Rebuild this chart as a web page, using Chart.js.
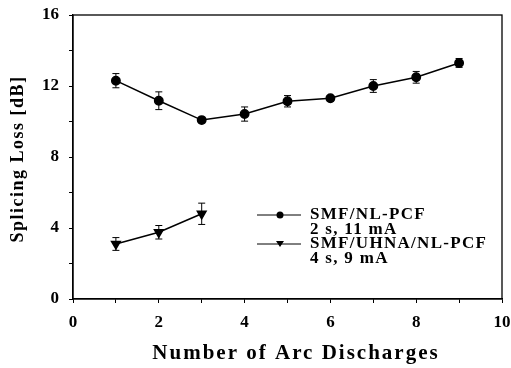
<!DOCTYPE html>
<html>
<head>
<meta charset="utf-8">
<script src="https://cdn.jsdelivr.net/npm/chart.js@4.4.0/dist/chart.umd.min.js"></script>
<style>
  html, body { margin: 0; padding: 0; background: #fff; }
  #wrap { width: 511px; height: 368px; }
</style>
</head>
<body>
<div id="wrap"><canvas id="chart" width="511" height="368"></canvas></div>
<script>
// arc discharge counts
const arcsA = [1, 2, 3, 4, 5, 6, 7, 8, 9];
const lossA = [12.3, 11.17, 10.08, 10.42, 11.14, 11.31, 12.0, 12.49, 13.3];
const errA = [0.4, 0.5, 0.15, 0.4, 0.32, 0.15, 0.36, 0.33, 0.25];

const arcsB = [1, 2, 3];
const lossB = [3.1, 3.76, 4.8];
const errB = [0.36, 0.38, 0.6];

const labelsA = ["SMF/NL-PCF", "2 s, 11 mA"];
const labelsB = ["SMF/UHNA/NL-PCF", "4 s, 9 mA"];
const xTitle = "Number of Arc Discharges";
const yTitle = "Splicing Loss [dB]";

const serif = "'Liberation Serif', 'Times New Roman', serif";

// error bars, frame, legend, axis titles (spaced letters)
const extras = {
    id: "extras",
    afterDatasetsDraw(chart) {
        const ctx = chart.ctx;
        const x = chart.scales.x, y = chart.scales.y;
        ctx.save();
        ctx.strokeStyle = "#000";
        ctx.fillStyle = "#000";
        ctx.lineWidth = 1;
        chart.data.datasets.forEach((ds) => {
            ds.data.forEach((p) => {
                const px = x.getPixelForValue(p.x);
                const top = y.getPixelForValue(p.y + p.e);
                const bot = y.getPixelForValue(p.y - p.e);
                ctx.beginPath();
                ctx.moveTo(px, top); ctx.lineTo(px, bot);
                ctx.moveTo(px - 3.5, top); ctx.lineTo(px + 3.5, top);
                ctx.moveTo(px - 3.5, bot); ctx.lineTo(px + 3.5, bot);
                ctx.stroke();
            });
        });
        // frame
        const a = chart.chartArea;
        ctx.lineWidth = 1.3;
        ctx.strokeRect(a.left, a.top, a.right - a.left, a.bottom - a.top);

        // legend
        ctx.font = "bold 17px " + serif;
        ctx.letterSpacing = "1.3px";
        ctx.textBaseline = "middle";
        ctx.textAlign = "left";
        const lx = 257, tx = 310;
        const rows = [[labelsA, 215, "circle"], [labelsB, 244, "triangle"]];
        rows.forEach(([lab, ly, style]) => {
            ctx.lineWidth = 1;
            ctx.beginPath();
            ctx.moveTo(lx, ly); ctx.lineTo(lx + 44, ly);
            ctx.stroke();
            ctx.beginPath();
            if (style === "circle") {
                ctx.arc(lx + 23, ly, 3.5, 0, Math.PI * 2);
            } else {
                ctx.moveTo(lx + 19, ly - 3); ctx.lineTo(lx + 27, ly - 3); ctx.lineTo(lx + 23, ly + 3);
                ctx.closePath();
            }
            ctx.fill();
            ctx.fillText(lab[0], tx, ly);
            ctx.fillText(lab[1], tx, ly + 15);
        });

        // axis titles
        ctx.textAlign = "center";
        ctx.font = "bold 21px " + serif;
        ctx.letterSpacing = "2px";
        ctx.fillText(xTitle, 296, 354);
        ctx.font = "bold 18px " + serif;
        ctx.letterSpacing = "1.5px";
        ctx.translate(18, 159);
        ctx.rotate(-Math.PI / 2);
        ctx.fillText(yTitle, 0, 0);
        ctx.restore();
    }
};

new Chart(document.getElementById("chart"), {
    type: "line",
    data: {
        datasets: [
            {
                label: labelsA.join(" "),
                data: arcsA.map((v, i) => ({ x: v, y: lossA[i], e: errA[i] })),
                borderColor: "#000",
                backgroundColor: "#000",
                borderWidth: 1.5,
                pointStyle: "circle",
                pointRadius: 4.2,
            },
            {
                label: labelsB.join(" "),
                data: arcsB.map((v, i) => ({ x: v, y: lossB[i], e: errB[i] })),
                borderColor: "#000",
                backgroundColor: "#000",
                borderWidth: 1.5,
                pointStyle: "triangle",
                rotation: 180,
                pointRadius: 5,
            },
        ],
    },
    options: {
        responsive: false,
        animation: false,
        layout: { padding: { top: 15, right: 9, left: 0, bottom: 0 } },
        plugins: { legend: { display: false }, tooltip: { enabled: false } },
        scales: {
            x: {
                type: "linear",
                min: 0, max: 10,
                border: { color: "#000", width: 1.3 },
                grid: { drawOnChartArea: false, drawTicks: true, tickLength: 4, color: "#000" },
                ticks: {
                    stepSize: 1,
                    color: "#000",
                    padding: 9,
                    maxRotation: 0,
                    font: { family: serif, weight: "bold", size: 17 },
                    callback: (v) => (v % 2 === 0 ? v : ""),
                },
                afterFit: (s) => { s.height = 69; s.paddingLeft = 0; s.paddingRight = 0; },
            },
            y: {
                min: 0, max: 16,
                border: { color: "#000", width: 1.3 },
                grid: { drawOnChartArea: false, drawTicks: true, tickLength: 4, color: "#000" },
                ticks: {
                    stepSize: 2,
                    color: "#000",
                    padding: 10,
                    font: { family: serif, weight: "bold", size: 17 },
                    callback: (v) => (v % 4 === 0 ? v : ""),
                },
                afterFit: (s) => { s.width = 73; s.paddingTop = 0; s.paddingBottom = 0; },
            },
        },
    },
    plugins: [extras],
});
</script>
</body>
</html>
